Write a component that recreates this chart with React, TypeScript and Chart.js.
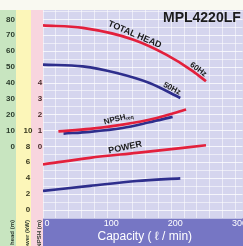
import React, { useEffect, useRef } from 'react';
import { Chart, registerables } from 'chart.js';
Chart.register(...registerables);

const modelName = 'MPL4220LF';
const xTitle = 'Capacity ( ℓ / min)';
const capacityTicks = [0, 100, 200, 300];
const headTicks = [0, 10, 20, 30, 40, 50, 60, 70, 80];
const powerTicks = [0, 2, 4, 6, 8, 10];
const npshTicks = [0, 1, 2, 3, 4];
const stripTitles = ['Total head (m)', 'Power (kW)', 'NPSH (m)'];

const head60Q = [0, 62, 141, 192, 234, 254];
const head60 = [76.3, 74.7, 67.3, 57.9, 47.4, 41.1];
const head50Q = [0, 62, 115, 166, 214];
const head50 = [51.6, 50.5, 46.3, 40, 30.6];
const npsh60Q = [24, 73, 124, 177, 223];
const npsh60 = [0.96, 1.11, 1.38, 1.8, 2.33];
const npsh50Q = [32, 73, 124, 166, 202];
const npsh50 = [0.82, 0.93, 1.17, 1.53, 1.87];
const power60Q = [0, 73, 146, 254];
const power60 = [5.75, 6.58, 7.21, 8.16];
const power50Q = [0, 73, 146, 214];
const power50 = [2.41, 3.04, 3.66, 4.0];

const RED = '#e3203c';
const BLUE = '#2e2e8c';
const NARROW = "'Liberation Sans Narrow', 'Liberation Sans', Arial, sans-serif";
const SANS = "'Liberation Sans', Arial, sans-serif";

const mk = (qs: number[], vs: number[], color: string, axis: string) => ({
  data: qs.map((q, i) => ({ x: q, y: vs[i] })),
  borderColor: color,
  backgroundColor: color,
  borderWidth: 2.7,
  pointRadius: 0,
  yAxisID: axis,
  cubicInterpolationMode: 'monotone' as const,
  fill: false,
});

function drawText(ctx: CanvasRenderingContext2D, text: string, x: number, y: number, deg: number, font: string, color: string, align: CanvasTextAlign = 'center') {
  ctx.save();
  ctx.translate(x, y);
  ctx.rotate((deg * Math.PI) / 180);
  ctx.font = font;
  ctx.fillStyle = color;
  ctx.textAlign = align;
  ctx.textBaseline = 'middle';
  ctx.fillText(text, 0, 0);
  ctx.restore();
}

const decor = {
  id: 'decor',
  beforeDraw(chart: any) {
    const { ctx, chartArea: a, width, height, scales } = chart;
    ctx.save();
    ctx.fillStyle = '#f9f9f1';
    ctx.fillRect(0, 0, width, height);
    const strips: [any, string][] = [
      [scales.yHead, '#c8e5c0'],
      [scales.yPower, '#fcf6b9'],
      [scales.yNpsh, '#f8d5de'],
    ];
    strips.forEach(([s, c]) => {
      ctx.fillStyle = c;
      ctx.fillRect(s.left, a.top, s.right - s.left, height - a.top);
    });
    ctx.fillStyle = '#d5d5ee';
    ctx.fillRect(a.left, a.top, width - a.left, a.bottom - a.top);
    ctx.fillStyle = '#7676c4';
    ctx.fillRect(a.left, a.bottom, width - a.left, height - a.bottom);
    ctx.restore();
  },
  afterDraw(chart: any) {
    const { ctx, chartArea: a, scales } = chart;
    const xs = scales.x;
    const yh = scales.yHead;
    const yp = scales.yPower;
    const yn = scales.yNpsh;

    const P = (q: number, h: number) => [xs.getPixelForValue(q), yh.getPixelForValue(h)];
    const F = `bold 9px ${SANS}`;
    let [x, y] = P(143, 70.5);
    drawText(ctx, 'TOTAL HEAD', x, y, 23, F, '#1a1a1a');
    [x, y] = P(242, 48.5);
    drawText(ctx, '60Hz', x, y, 36, `bold 8px ${SANS}`, '#1a1a1a');
    [x, y] = P(201, 36.5);
    drawText(ctx, '50Hz', x, y, 28, `bold 8px ${SANS}`, '#1a1a1a');
    [x, y] = P(128, -0.6);
    drawText(ctx, 'POWER', x, y, -12, F, '#1a1a1a');
    // NPSHreq
    [x, y] = P(118, 17.6);
    ctx.save();
    ctx.translate(x, y);
    ctx.rotate((-14 * Math.PI) / 180);
    ctx.fillStyle = '#1a1a1a';
    ctx.textBaseline = 'middle';
    ctx.textAlign = 'left';
    ctx.font = `bold 8px ${SANS}`;
    const w = ctx.measureText('NPSH').width;
    ctx.fillText('NPSH', -w / 2 - 4, 0);
    ctx.font = `bold 5px ${SANS}`;
    ctx.fillText('req', w / 2 - 4, 2);
    ctx.restore();
    // model name
    drawText(ctx, modelName, a.left + 120, a.top + 8, 0, `bold 14px ${SANS}`, '#1c1c1c', 'left');
    // x title
    drawText(ctx, xTitle, (a.left + a.right) / 2 + 2, 237, 0, `12px ${SANS}`, '#ffffff');
    // strip titles
    [yh, yp, yn].forEach((s: any, i: number) => {
      ctx.save();
      ctx.translate(s.right - 4, a.bottom + 2);
      ctx.rotate(-Math.PI / 2);
      ctx.font = `bold 6px ${NARROW}`;
      ctx.fillStyle = '#2e3a2e';
      ctx.textAlign = 'right';
      ctx.textBaseline = 'middle';
      ctx.fillText(stripTitles[i], 0, 0);
      ctx.restore();
    });
    // y tick labels (drawn last)
    ctx.save();
    ctx.font = `bold 8px ${NARROW}`;
    ctx.textBaseline = 'middle';
    ctx.fillStyle = '#2c3c2c';
    ctx.textAlign = 'right';
    headTicks.forEach((v) => ctx.fillText(String(v), Math.round(yh.right - 1), Math.round(yh.getPixelForValue(v))));
    ctx.textAlign = 'center';
    ctx.fillStyle = '#3a3a20';
    powerTicks.forEach((v) => ctx.fillText(String(v), Math.round(yp.left + 12), Math.round(yp.getPixelForValue(v))));
    ctx.fillStyle = '#4a2c2c';
    npshTicks.forEach((v) => ctx.fillText(String(v), Math.round(yn.left + 9), Math.round(yn.getPixelForValue(v))));
    ctx.restore();
  },
};

export default function App() {
  const ref = useRef<HTMLCanvasElement>(null);
  useEffect(() => {
    if (!ref.current) return;
    const gridFine = 'rgba(255,255,255,0.55)';
    const chart = new Chart(ref.current, {
      type: 'line',
      data: {
        datasets: [
          mk(head60Q, head60, RED, 'yHead'),
          mk(npsh60Q, npsh60, RED, 'yNpsh'),
          mk(power60Q, power60, RED, 'yPower'),
          mk(head50Q, head50, BLUE, 'yHead'),
          mk(npsh50Q, npsh50, BLUE, 'yNpsh'),
          mk(power50Q, power50, BLUE, 'yPower'),
        ] as any,
      },
      options: {
        animation: false,
        responsive: false,
        layout: { padding: { top: 10, right: 0, left: 0, bottom: 0 } },
        plugins: { legend: { display: false }, tooltip: { enabled: false }, title: { display: false } },
        scales: {
          x: {
            type: 'linear',
            min: 0,
            max: 311,
            afterBuildTicks: (s: any) => {
              const t = [];
              for (let v = 0; v <= 300; v += 20) t.push({ value: v });
              s.ticks = t;
            },
            afterFit: (s: any) => { s.height = 28; },
            border: { display: false },
            grid: { color: gridFine, drawTicks: false, tickLength: 0 },
            ticks: {
              autoSkip: false,
              maxRotation: 0,
              padding: 0,
              labelOffset: 4,
              color: '#ffffff',
              font: { family: SANS, size: 9 },
              callback: (v: any) => (capacityTicks.includes(v) ? String(v) : ''),
            },
          },
          yHead: {
            type: 'linear',
            position: 'left',
            weight: 2,
            min: -45,
            max: 86,
            afterBuildTicks: (s: any) => {
              const t = [];
              for (let v = -45; v <= 85; v += 5) t.push({ value: v });
              s.ticks = t;
            },
            afterFit: (s: any) => { s.width = 16; },
            border: { display: false },
            grid: {
              drawTicks: false,
              tickLength: 0,
              color: (c: any) => (c.tick && c.tick.value % 10 === 0 ? 'rgba(255,255,255,0.75)' : gridFine),
            },
            ticks: { display: false },
          },
          yPower: {
            type: 'linear',
            position: 'left',
            weight: 1,
            min: -1,
            max: 25.2,
            afterFit: (s: any) => { s.width = 15; },
            border: { display: false },
            grid: { display: false, drawTicks: false },
            ticks: { display: false },
          },
          yNpsh: {
            type: 'linear',
            position: 'left',
            weight: 0,
            min: -4.5,
            max: 8.6,
            afterFit: (s: any) => { s.width = 12; },
            border: { display: false },
            grid: { display: false, drawTicks: false },
            ticks: { display: false },
          },
        },
      } as any,
      plugins: [decor],
    });
    return () => chart.destroy();
  }, []);
  return (
    <div style={{ position: 'fixed', left: 0, top: 0, width: 243, height: 246, overflow: 'hidden', background: '#f9f9f1' }}>
      <canvas ref={ref} width={243} height={246} style={{ display: 'block' }} />
    </div>
  );
}
